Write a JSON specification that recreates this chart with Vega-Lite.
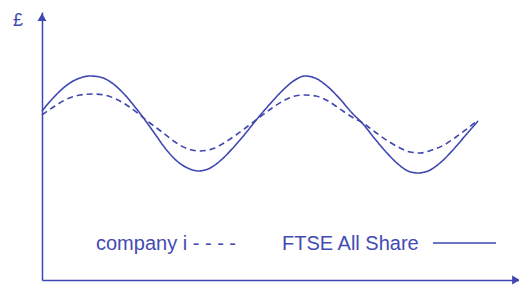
{
  "$schema": "https://vega.github.io/schema/vega-lite/v6.json",
  "width": 477,
  "height": 268,
  "padding": {"left": 42, "top": 12, "right": 0, "bottom": 5},
  "autosize": {"type": "none"},
  "background": "white",
  "config": {"view": {"stroke": null}},
  "datasets": {
    "curves": [
      {"series": "FTSE All Share", "x": 0, "y": 169},
      {"series": "FTSE All Share", "x": 13, "y": 184},
      {"series": "FTSE All Share", "x": 25, "y": 195},
      {"series": "FTSE All Share", "x": 38, "y": 202},
      {"series": "FTSE All Share", "x": 48, "y": 204},
      {"series": "FTSE All Share", "x": 58, "y": 203},
      {"series": "FTSE All Share", "x": 70, "y": 197},
      {"series": "FTSE All Share", "x": 83, "y": 185},
      {"series": "FTSE All Share", "x": 93, "y": 173},
      {"series": "FTSE All Share", "x": 103, "y": 160},
      {"series": "FTSE All Share", "x": 113, "y": 146},
      {"series": "FTSE All Share", "x": 123, "y": 132},
      {"series": "FTSE All Share", "x": 136, "y": 118},
      {"series": "FTSE All Share", "x": 148, "y": 111},
      {"series": "FTSE All Share", "x": 156, "y": 109},
      {"series": "FTSE All Share", "x": 166, "y": 111},
      {"series": "FTSE All Share", "x": 178, "y": 119},
      {"series": "FTSE All Share", "x": 190, "y": 131},
      {"series": "FTSE All Share", "x": 203, "y": 146},
      {"series": "FTSE All Share", "x": 215, "y": 161},
      {"series": "FTSE All Share", "x": 228, "y": 176},
      {"series": "FTSE All Share", "x": 240, "y": 189},
      {"series": "FTSE All Share", "x": 253, "y": 200},
      {"series": "FTSE All Share", "x": 263, "y": 204},
      {"series": "FTSE All Share", "x": 273, "y": 202},
      {"series": "FTSE All Share", "x": 285, "y": 194},
      {"series": "FTSE All Share", "x": 298, "y": 181},
      {"series": "FTSE All Share", "x": 310, "y": 167},
      {"series": "FTSE All Share", "x": 321, "y": 156},
      {"series": "FTSE All Share", "x": 333, "y": 141},
      {"series": "FTSE All Share", "x": 345, "y": 127},
      {"series": "FTSE All Share", "x": 356, "y": 116},
      {"series": "FTSE All Share", "x": 366, "y": 109},
      {"series": "FTSE All Share", "x": 376, "y": 107},
      {"series": "FTSE All Share", "x": 386, "y": 109},
      {"series": "FTSE All Share", "x": 398, "y": 117},
      {"series": "FTSE All Share", "x": 410, "y": 129},
      {"series": "FTSE All Share", "x": 423, "y": 144},
      {"series": "FTSE All Share", "x": 436, "y": 159},
      {"series": "company i", "x": 0, "y": 165},
      {"series": "company i", "x": 13, "y": 174},
      {"series": "company i", "x": 25, "y": 181},
      {"series": "company i", "x": 38, "y": 185},
      {"series": "company i", "x": 50, "y": 186},
      {"series": "company i", "x": 62, "y": 185},
      {"series": "company i", "x": 74, "y": 181},
      {"series": "company i", "x": 86, "y": 174},
      {"series": "company i", "x": 98, "y": 165},
      {"series": "company i", "x": 108, "y": 157},
      {"series": "company i", "x": 120, "y": 148},
      {"series": "company i", "x": 133, "y": 138},
      {"series": "company i", "x": 146, "y": 131},
      {"series": "company i", "x": 158, "y": 129},
      {"series": "company i", "x": 170, "y": 131},
      {"series": "company i", "x": 182, "y": 137},
      {"series": "company i", "x": 194, "y": 145},
      {"series": "company i", "x": 206, "y": 154},
      {"series": "company i", "x": 218, "y": 163},
      {"series": "company i", "x": 230, "y": 172},
      {"series": "company i", "x": 243, "y": 180},
      {"series": "company i", "x": 253, "y": 184},
      {"series": "company i", "x": 263, "y": 185},
      {"series": "company i", "x": 274, "y": 184},
      {"series": "company i", "x": 286, "y": 179},
      {"series": "company i", "x": 298, "y": 171},
      {"series": "company i", "x": 310, "y": 163},
      {"series": "company i", "x": 321, "y": 157},
      {"series": "company i", "x": 333, "y": 148},
      {"series": "company i", "x": 346, "y": 139},
      {"series": "company i", "x": 358, "y": 132},
      {"series": "company i", "x": 368, "y": 128},
      {"series": "company i", "x": 378, "y": 127},
      {"series": "company i", "x": 390, "y": 130},
      {"series": "company i", "x": 402, "y": 135},
      {"series": "company i", "x": 414, "y": 143},
      {"series": "company i", "x": 426, "y": 152},
      {"series": "company i", "x": 436, "y": 160}
    ],
    "labels": [
      {"label": "company i - - - -", "x": 54, "y": 30},
      {"label": "FTSE All Share", "x": 240, "y": 30}
    ],
    "keyline": [{"x": 391, "x2": 454, "y": 37}],
    "arrows": [
      {"x": 0, "y": 262.8, "shape": "triangle-up"},
      {"x": 474, "y": 0, "shape": "triangle-right"}
    ]
  },
  "layer": [
    {
      "data": {"name": "curves"},
      "mark": {"type": "line", "interpolate": "monotone", "strokeWidth": 1.6, "color": "#3f47b0"},
      "encoding": {
        "x": {
          "field": "x", "type": "quantitative",
          "scale": {"domain": [0, 477], "nice": false, "zero": false},
          "axis": {"domain": true, "domainColor": "#3f47b0", "domainWidth": 1.5, "ticks": false, "labels": false, "grid": false, "title": null}
        },
        "y": {
          "field": "y", "type": "quantitative",
          "scale": {"domain": [0, 268], "nice": false, "zero": false},
          "axis": {"domain": true, "domainColor": "#3f47b0", "domainWidth": 1.5, "ticks": false, "labels": false, "grid": false,
                   "title": "£", "titleAngle": 0, "titleX": -24.5, "titleY": 13, "titleAlign": "center", "titleBaseline": "alphabetic",
                   "titleFont": "Liberation Sans", "titleFontSize": 18, "titleFontWeight": "normal", "titleColor": "#434bb3"}
        },
        "detail": {"field": "series"},
        "strokeDash": {
          "field": "series", "type": "nominal",
          "scale": {"domain": ["FTSE All Share", "company i"], "range": [[1, 0], [6, 4]]},
          "legend": null
        }
      }
    },
    {
      "data": {"name": "labels"},
      "mark": {"type": "text", "align": "left", "baseline": "alphabetic", "font": "Liberation Sans", "fontSize": 20, "color": "#434bb3"},
      "encoding": {
        "x": {"field": "x", "type": "quantitative"},
        "y": {"field": "y", "type": "quantitative"},
        "text": {"field": "label"}
      }
    },
    {
      "data": {"name": "keyline"},
      "mark": {"type": "rule", "strokeWidth": 1.6, "color": "#3f47b0"},
      "encoding": {
        "x": {"field": "x", "type": "quantitative"},
        "x2": {"field": "x2"},
        "y": {"field": "y", "type": "quantitative"}
      }
    },
    {
      "data": {"name": "arrows"},
      "mark": {"type": "point", "filled": true, "size": 80, "color": "#3f47b0", "opacity": 1, "clip": false},
      "encoding": {
        "x": {"field": "x", "type": "quantitative"},
        "y": {"field": "y", "type": "quantitative"},
        "shape": {"field": "shape", "type": "nominal", "scale": null}
      }
    }
  ]
}
